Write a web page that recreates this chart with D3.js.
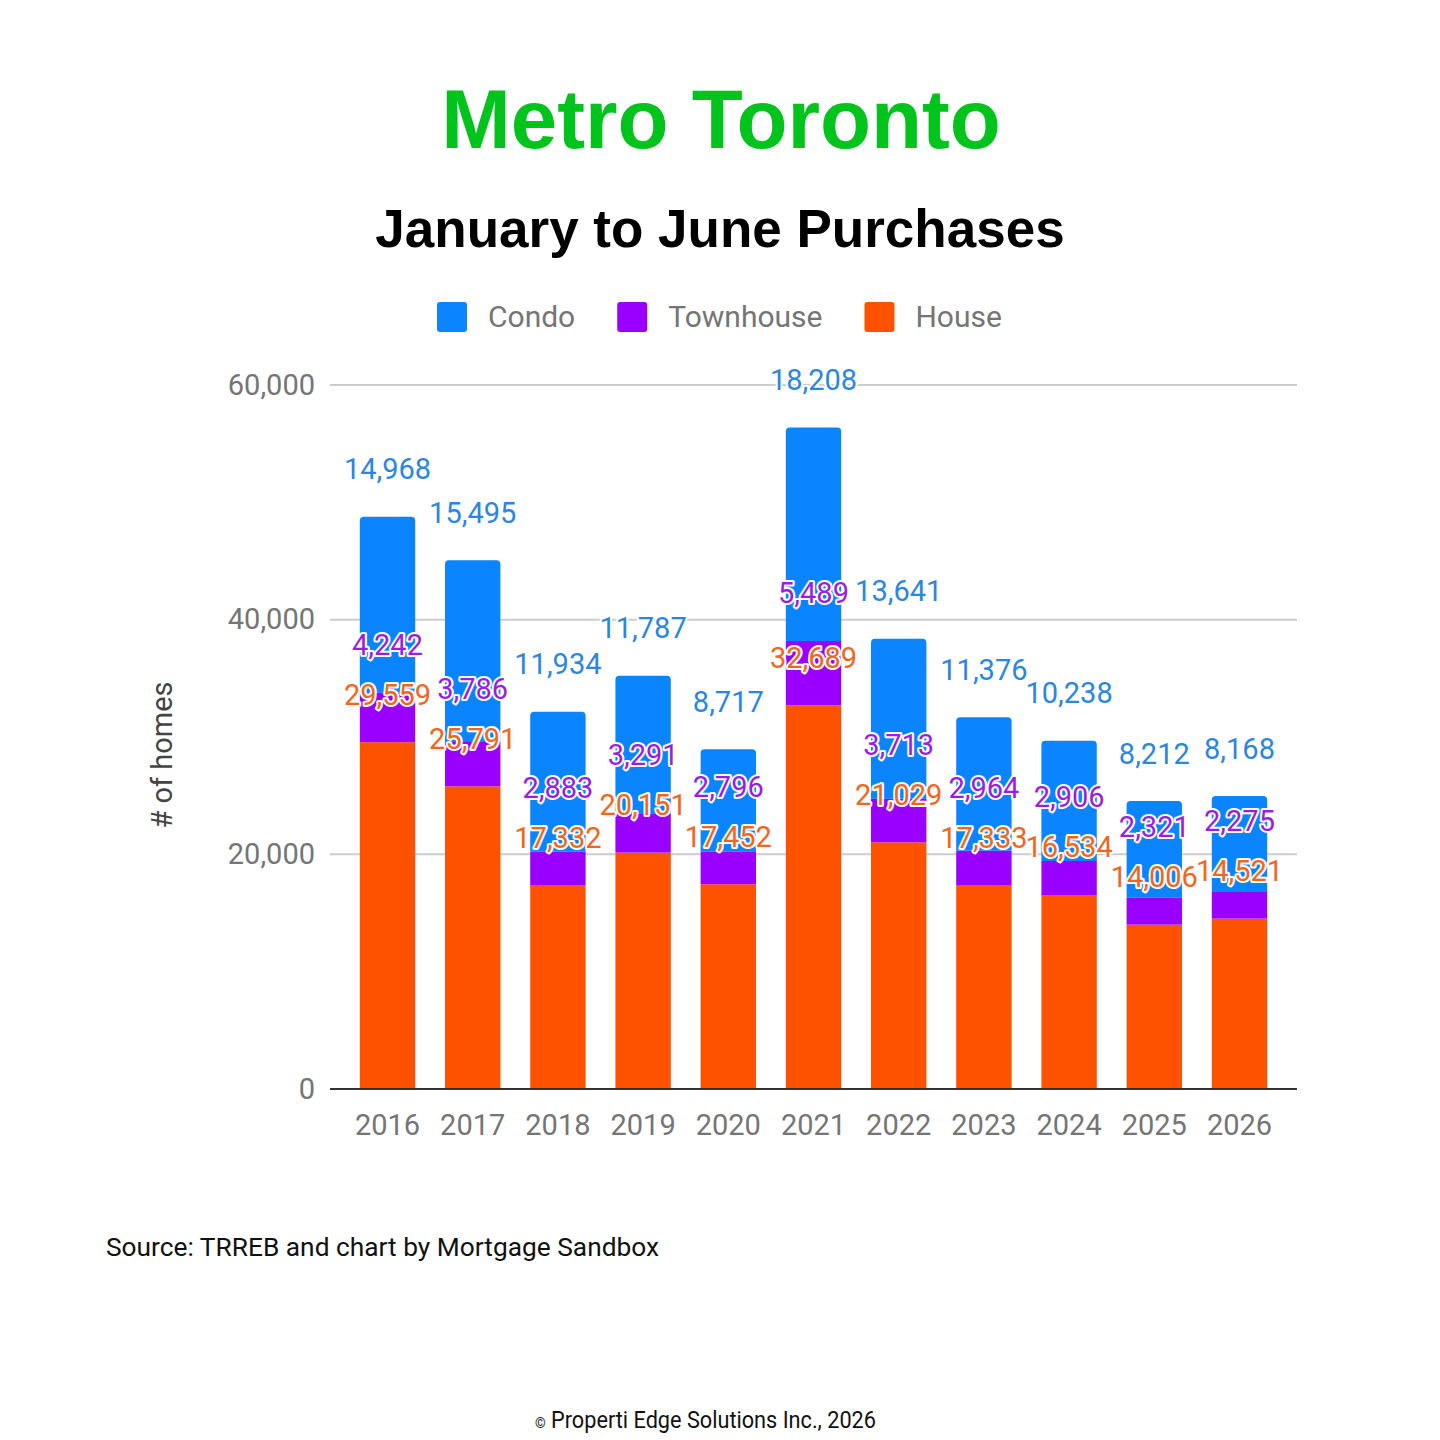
<!DOCTYPE html>
<html><head><meta charset="utf-8">
<script src="https://cdn.jsdelivr.net/npm/d3@7/dist/d3.min.js"></script>
<style>
html,body{margin:0;padding:0;background:#fff;}
svg{display:block;}
</style></head>
<body>
<svg id="chart" width="1440" height="1440"></svg>
<script>
const years = ["2016","2017","2018","2019","2020","2021","2022","2023","2024","2025","2026"];
const seriesNames = ["House","Townhouse","Condo"];
const house = [29559,25791,17332,20151,17452,32689,21029,17333,16534,14006,14521];
const townhouse = [4242,3786,2883,3291,2796,5489,3713,2964,2906,2321,2275];
const condo = [14968,15495,11934,11787,8717,18208,13641,11376,10238,8212,8168];
const yTicks = [0,20000,40000,60000];
const legendOrder = ["Condo","Townhouse","House"];

const barColor = {House:"#ff5200", Townhouse:"#9900ff", Condo:"#0a84ff"};
const labelColor = {House:"#f0661e", Townhouse:"#9a1ee0", Condo:"#2a86e0"};

const svg = d3.select("#chart");

// Titles
svg.append("text").attr("x",721).attr("y",148).attr("text-anchor","middle")
  .attr("font-family","Liberation Sans, Arial, sans-serif").attr("font-weight","bold")
  .attr("font-size",83.5).attr("fill","#00c41c").text("Metro Toronto");
svg.append("text").attr("x",720).attr("y",247).attr("text-anchor","middle")
  .attr("font-family","Liberation Sans, Arial, sans-serif").attr("font-weight","bold")
  .attr("font-size",53).attr("fill","#000").text("January to June Purchases");

// Legend
const lg = svg.append("g").attr("font-family","Roboto, sans-serif").attr("font-size",30).attr("fill","#757575");
let lx = 437;
legendOrder.forEach(name => {
  lg.append("rect").attr("x",lx).attr("y",302).attr("width",30).attr("height",30).attr("rx",3)
    .attr("fill",barColor[name]);
  const t = lg.append("text").attr("x",lx+51).attr("y",327).text(name);
  const w = t.node().getComputedTextLength();
  lx = lx + 51 + w + 42;
});

// Scales
const x = d3.scaleBand().domain(years).range([330,1297]).paddingInner(0.35).paddingOuter(0.35);
const y = d3.scaleLinear().domain([0,60000]).range([1089,385]);

// Gridlines
svg.append("g").selectAll("line").data(yTicks.filter(d=>d>0)).join("line")
  .attr("x1",330).attr("x2",1297).attr("y1",d=>y(d)).attr("y2",d=>y(d))
  .attr("stroke","#cccccc").attr("stroke-width",2);

// Y axis labels
const yAxis = d3.axisLeft(y).tickValues(yTicks).tickSize(0).tickPadding(15).tickFormat(d3.format(","));
const ya = svg.append("g").attr("transform","translate(330,0)").call(yAxis);
ya.select(".domain").remove();
ya.selectAll("text").attr("font-family","Roboto, sans-serif").attr("font-size",29).attr("fill","#757575");

// Stack
const table = years.map((yr,i)=>({year:yr, House:house[i], Townhouse:townhouse[i], Condo:condo[i]}));
const stack = d3.stack().keys(seriesNames)(table);

// Bars (rounded top only on topmost segment)
const bars = svg.append("g");
stack.forEach((layer, li) => {
  layer.forEach((d,i) => {
    const x0 = x(d.data.year), bw = x.bandwidth();
    const yTop = y(d[1]), yBot = y(d[0]);
    const isTop = li === stack.length-1;
    if (isTop) {
      const r = 4;
      const p = `M${x0},${yBot} L${x0},${yTop+r} Q${x0},${yTop} ${x0+r},${yTop} L${x0+bw-r},${yTop} Q${x0+bw},${yTop} ${x0+bw},${yTop+r} L${x0+bw},${yBot} Z`;
      bars.append("path").attr("d",p).attr("fill",barColor[layer.key]);
    } else {
      bars.append("rect").attr("x",x0).attr("y",yTop).attr("width",bw).attr("height",yBot-yTop)
        .attr("fill",barColor[layer.key]);
    }
  });
});

// Baseline
svg.append("line").attr("x1",330).attr("x2",1297).attr("y1",y(0)).attr("y2",y(0))
  .attr("stroke","#333").attr("stroke-width",2);

// X axis labels
const xAxis = d3.axisBottom(x).tickSize(0).tickPadding(25);
const xa = svg.append("g").attr("transform",`translate(0,${y(0)})`).call(xAxis);
xa.select(".domain").remove();
xa.selectAll("text").attr("font-family","Roboto, sans-serif").attr("font-size",29).attr("fill","#757575");

// Annotations: placed above each segment top, pushed up to avoid overlap
const fmt = d3.format(",");
const lab = svg.append("g").attr("font-family","Roboto, sans-serif").attr("font-size",29)
  .attr("text-anchor","middle");
years.forEach((yr,i) => {
  let prev = Infinity;
  stack.forEach(layer => {
    const d = layer[i];
    let cy = y(d[1]) - 48;
    cy = Math.min(cy, prev - 50);
    prev = cy;
    lab.append("text").attr("x", x(yr)+x.bandwidth()/2).attr("y", cy).attr("dy","0.36em")
      .attr("fill", labelColor[layer.key]).attr("stroke","#fff").attr("stroke-width",4)
      .attr("stroke-linejoin","round").attr("paint-order","stroke")
      .text(fmt(d.data[layer.key]));
  });
});

// Y axis title
svg.append("text").attr("transform","translate(172,755) rotate(-90)").attr("text-anchor","middle")
  .attr("font-family","Roboto, sans-serif").attr("font-size",29).attr("fill","#444")
  .text("# of homes");

// Source
svg.append("text").attr("x",106).attr("y",1256).attr("font-family","Roboto, sans-serif")
  .attr("font-size",26.3).attr("fill","#111").text("Source: TRREB and chart by Mortgage Sandbox");

// Footer
const ft = svg.append("text").attr("x",535).attr("y",1428).attr("font-family","Roboto, sans-serif")
  .attr("font-size",24).attr("fill","#111");
ft.append("tspan").attr("font-size",15).text("©");
ft.append("tspan").text(" Properti Edge Solutions Inc., 2026");
ft.attr("textLength",341).attr("lengthAdjust","spacingAndGlyphs");
</script>
</body></html>
